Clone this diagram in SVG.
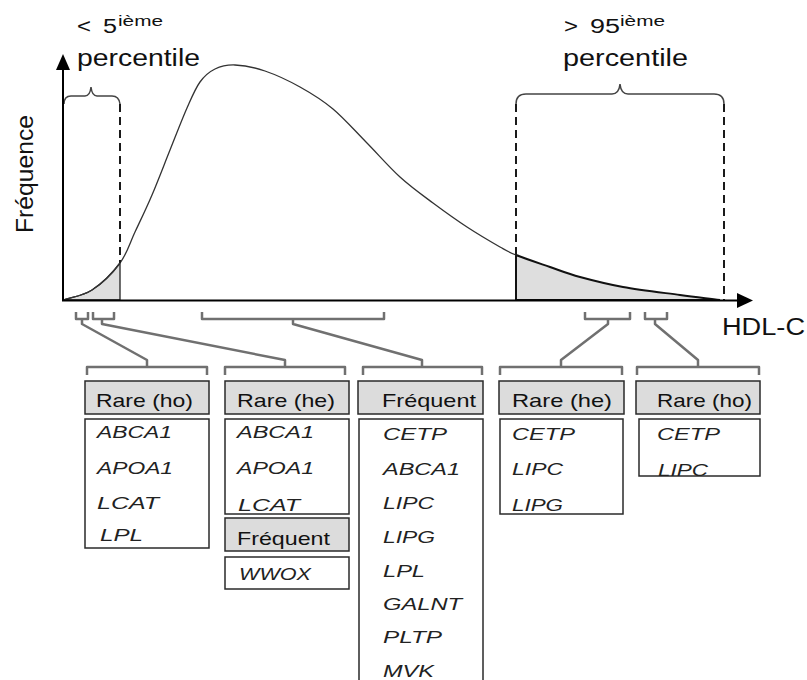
<svg xmlns="http://www.w3.org/2000/svg" width="807" height="680" viewBox="0 0 807 680">
<style>
text { font-family: "Liberation Sans", Arial, sans-serif; fill: #111; }
.big { font-size: 23px; }
.sm { font-size: 20px; }
.sup { font-size: 15px; }
.hdr { font-size: 19px; }
.gene { font-size: 16px; font-style: italic; fill: #222; }
.hbox { fill: #dcdcdc; stroke: #2a2a2a; stroke-width: 1.5; }
.lbox { fill: #ffffff; stroke: #2a2a2a; stroke-width: 1.5; }
.axis { stroke: #000; stroke-width: 2; fill: none; }
.dash { stroke: #1a1a1a; stroke-width: 2; stroke-dasharray: 8 5; fill: none; }
.brace { stroke: #444; stroke-width: 1.5; fill: none; }
.conn { stroke: #707070; stroke-width: 2.5; fill: none; stroke-linejoin: round; }
</style>

<g id="distribution">
  <path d="M63,300 C72.7,296.7 82.5,296.2 92,290 C101.5,283.8 112.8,272.7 120,263 L120,300 Z" fill="#dedede" stroke="#222" stroke-width="1.3"/>
  <path d="M516,255 C524.3,258.3 539.3,263.3 550,267 C560.7,270.7 567.8,273.7 580,277 C592.2,280.3 606.3,284 623,287 C639.7,290 663.8,292.8 680,295 C696.2,297.2 706.7,298.3 720,300 L516,300 Z" fill="#dedede" stroke="#111" stroke-width="2"/>
  <path d="M63,300 C72.7,296.7 82.5,296.2 92,290 C101.5,283.8 112.8,272.7 120,263 C127.2,253.3 129.7,243.3 135,232 C140.3,220.7 146.2,208.7 152,195 C157.8,181.3 164.2,164.5 170,150 C175.8,135.5 182,119.3 187,108 C192,96.7 195.3,88.5 200,82 C204.7,75.5 209.2,71.8 215,69 C220.8,66.2 226.7,64.7 235,65 C243.3,65.3 254.2,67.3 265,71 C275.8,74.7 288.7,80.7 300,87 C311.3,93.3 322,99.8 333,109 C344,118.2 354.8,130.7 366,142 C377.2,153.3 388.8,166.8 400,177 C411.2,187.2 421.8,194.7 433,203 C444.2,211.3 455.8,219.7 467,227 C478.2,234.3 491.8,242.3 500,247 C508.2,251.7 507.7,251.7 516,255" fill="none" stroke="#333" stroke-width="1.3"/>
  <line class="dash" x1="120" y1="104" x2="120" y2="263"/>
  <line class="dash" x1="516" y1="104" x2="516" y2="255"/>
  <line class="dash" x1="724" y1="104" x2="724" y2="300"/>
  <path class="brace" d="M64,104 Q64,96 71,96 L85,96 Q90,96 91,87 Q92,96 97,96 L112,96 Q119,96 120,104"/>
  <path class="brace" d="M516,104 Q516,94 526,94 L612,94 Q619,94 620,84 Q621,94 628,94 L714,94 Q724,94 724,104"/>
</g>

<g id="axes">
  <line class="axis" x1="63" y1="301" x2="63" y2="68"/>
  <polygon points="56,70 70,70 63,54" fill="#000"/>
  <line class="axis" x1="62" y1="300.5" x2="740" y2="300.5"/>
  <polygon points="737,293 737,308 753,300.5" fill="#000"/>
  <text class="big" transform="translate(33,174) rotate(-90)" text-anchor="middle" textLength="118" lengthAdjust="spacingAndGlyphs">Fréquence</text>
  <text class="big" x="722" y="335" textLength="83" lengthAdjust="spacingAndGlyphs">HDL-C</text>
</g>

<g id="labels">
  <text class="sm" y="33"><tspan x="77" textLength="14" lengthAdjust="spacingAndGlyphs">&lt;</tspan><tspan x="102"> </tspan><tspan x="103" textLength="14" lengthAdjust="spacingAndGlyphs">5</tspan></text>
  <text class="sup" x="118" y="26" textLength="45" lengthAdjust="spacingAndGlyphs">ième</text>
  <text class="big" x="77" y="66" textLength="123" lengthAdjust="spacingAndGlyphs">percentile</text>
  <text class="sm" y="33"><tspan x="564" textLength="14" lengthAdjust="spacingAndGlyphs">&gt;</tspan><tspan x="589"> </tspan><tspan x="590" textLength="30" lengthAdjust="spacingAndGlyphs">95</tspan></text>
  <text class="sup" x="620" y="26" textLength="45" lengthAdjust="spacingAndGlyphs">ième</text>
  <text class="big" x="563" y="66" textLength="125" lengthAdjust="spacingAndGlyphs">percentile</text>
</g>

<g id="connectors">
  <path class="conn" d="M76,312 L76,319 L88,319 L88,312 M82,319 L82,324 L147,360 L147,367"/>
  <path class="conn" d="M93,312 L93,319 L114,319 L114,312 M102,319 L102,324 L285,360 L285,367"/>
  <path class="conn" d="M202,312 L202,319 L384,319 L384,312 M293,319 L293,324 L422,360 L422,367"/>
  <path class="conn" d="M585,312 L585,319 L630,319 L630,312 M608,319 L608,324 L561,360 L561,367"/>
  <path class="conn" d="M645,312 L645,319 L667,319 L667,312 M655,319 L655,324 L698,360 L698,367"/>
  <path class="conn" d="M87,375 L87,367 L207,367 L207,375"/>
  <path class="conn" d="M225,375 L225,367 L345,367 L345,375"/>
  <path class="conn" d="M363,375 L363,367 L482,367 L482,375"/>
  <path class="conn" d="M500,375 L500,367 L622,367 L622,375"/>
  <path class="conn" d="M637,375 L637,367 L759,367 L759,375"/>
</g>

<g id="col1-rare-ho">
  <rect class="hbox" x="85" y="381" width="124" height="33"/>
  <text class="hdr" x="96" y="407" textLength="97" lengthAdjust="spacingAndGlyphs">Rare (ho)</text>
  <rect class="lbox" x="85" y="419" width="124" height="129"/>
  <text class="gene" x="97" y="438" textLength="75" lengthAdjust="spacingAndGlyphs">ABCA1</text>
  <text class="gene" x="97" y="474" textLength="76" lengthAdjust="spacingAndGlyphs">APOA1</text>
  <text class="gene" x="97" y="509" textLength="62" lengthAdjust="spacingAndGlyphs">LCAT</text>
  <text class="gene" x="100" y="541" textLength="43" lengthAdjust="spacingAndGlyphs">LPL</text>
</g>

<g id="col2-rare-he">
  <rect class="hbox" x="225" y="381" width="124" height="33"/>
  <text class="hdr" x="237" y="407" textLength="98" lengthAdjust="spacingAndGlyphs">Rare (he)</text>
  <rect class="lbox" x="225" y="419" width="124" height="95"/>
  <text class="gene" x="237" y="438" textLength="77" lengthAdjust="spacingAndGlyphs">ABCA1</text>
  <text class="gene" x="237" y="474" textLength="77" lengthAdjust="spacingAndGlyphs">APOA1</text>
  <text class="gene" x="238" y="511" textLength="62" lengthAdjust="spacingAndGlyphs">LCAT</text>
  <rect class="hbox" x="225" y="518" width="124" height="33"/>
  <text class="hdr" x="237" y="545" textLength="93" lengthAdjust="spacingAndGlyphs">Fréquent</text>
  <rect class="lbox" x="225" y="557" width="124" height="32"/>
  <text class="gene" x="239" y="580" textLength="72" lengthAdjust="spacingAndGlyphs">WWOX</text>
</g>

<g id="col3-frequent">
  <rect class="hbox" x="358" y="381" width="125" height="33"/>
  <text class="hdr" x="382" y="407" textLength="94" lengthAdjust="spacingAndGlyphs">Fréquent</text>
  <rect class="lbox" x="359" y="419" width="124" height="270"/>
  <text class="gene" x="383" y="440" textLength="64" lengthAdjust="spacingAndGlyphs">CETP</text>
  <text class="gene" x="383" y="475" textLength="77" lengthAdjust="spacingAndGlyphs">ABCA1</text>
  <text class="gene" x="383" y="509" textLength="51" lengthAdjust="spacingAndGlyphs">LIPC</text>
  <text class="gene" x="383" y="543" textLength="52" lengthAdjust="spacingAndGlyphs">LIPG</text>
  <text class="gene" x="383" y="577" textLength="42" lengthAdjust="spacingAndGlyphs">LPL</text>
  <text class="gene" x="383" y="610" textLength="79" lengthAdjust="spacingAndGlyphs">GALNT</text>
  <text class="gene" x="383" y="643" textLength="59" lengthAdjust="spacingAndGlyphs">PLTP</text>
  <text class="gene" x="383" y="677" textLength="51" lengthAdjust="spacingAndGlyphs">MVK</text>
</g>

<g id="col4-rare-he">
  <rect class="hbox" x="499" y="381" width="125" height="33"/>
  <text class="hdr" x="512" y="407" textLength="100" lengthAdjust="spacingAndGlyphs">Rare (he)</text>
  <rect class="lbox" x="500" y="419" width="123" height="95"/>
  <text class="gene" x="512" y="440" textLength="63" lengthAdjust="spacingAndGlyphs">CETP</text>
  <text class="gene" x="512" y="475" textLength="51" lengthAdjust="spacingAndGlyphs">LIPC</text>
  <text class="gene" x="512" y="511" textLength="51" lengthAdjust="spacingAndGlyphs">LIPG</text>
</g>

<g id="col5-rare-ho">
  <rect class="hbox" x="636" y="381" width="124" height="33"/>
  <text class="hdr" x="657" y="407" textLength="95" lengthAdjust="spacingAndGlyphs">Rare (ho)</text>
  <rect class="lbox" x="639" y="419" width="121" height="57"/>
  <text class="gene" x="657" y="440" textLength="63" lengthAdjust="spacingAndGlyphs">CETP</text>
  <text class="gene" x="658" y="476" textLength="50" lengthAdjust="spacingAndGlyphs">LIPC</text>
</g>
</svg>
